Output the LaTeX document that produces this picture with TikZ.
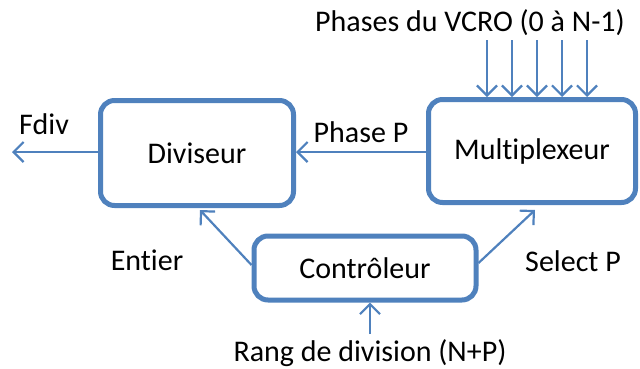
\documentclass[tikz,border=0pt]{standalone}
\usepackage{fontspec}
\setmainfont{Carlito}[Ligatures={NoCommon,NoContextual}]
\usetikzlibrary{arrows.meta}
\definecolor{bl}{HTML}{4F81BD}
\begin{document}
\begin{tikzpicture}[x=1pt,y=-1pt,
  blk/.style={draw=bl,line width=5pt,rounded corners=14pt,fill=white,inner sep=0pt},
  arr/.style={draw=bl,line width=2.2pt,-{Straight Barb[length=10pt,width=20pt,line width=2.2pt]}},
  lbl/.style={font=\fontsize{30}{34}\selectfont,inner sep=0pt}]
\useasboundingbox (0,0) rectangle (640,368);
\node[blk,minimum width=193pt,minimum height=105pt] (div) at (197,153) {};
\node[lbl] at (div.center) {Diviseur};
\node[blk,minimum width=207pt,minimum height=103pt] (mux) at (532,151) {};
\node[lbl] at (mux.center) {Multiplexeur};
\node[blk,minimum width=222pt,minimum height=64pt] (ctl) at (365,268) {};
\node[lbl] at (ctl.center) {Contrôleur};
\coordinate (fout) at (12,152);
\draw[arr] (div.west |- 0,152) -- (fout);
\node[lbl] (fdiv) at (44,124) {Fdiv};
\draw[arr] (mux.west |- 0,152) -- (div.east |- 0,152);
\node[lbl] (php) at (361,132) {Phase P};
\node[lbl] (phases) at (470,23) {Phases du VCRO (0 à N-1)};
\foreach \i/\xx in {1/487,2/512,3/537,4/562,5/587}{
  \coordinate (t\i) at (\xx,40);
  \draw[arr] (t\i) -- (mux.north -| t\i);
}
\node[lbl] (rang) at (370,353) {Rang de division (N+P)};
\coordinate (rin) at (370,334);
\draw[arr] (rin) -- (ctl.south -| rin);
\draw[arr] ([yshift=3pt]ctl.west) -- ([xshift=3pt,yshift=-2pt]div.south);
\node[lbl] (ent) at (147,260) {Entier};
\draw[arr] ([yshift=5pt]ctl.east) -- ([xshift=3pt,yshift=-5pt]mux.south);
\node[lbl] (sel) at (573,261) {Select P};
\end{tikzpicture}
\end{document}
